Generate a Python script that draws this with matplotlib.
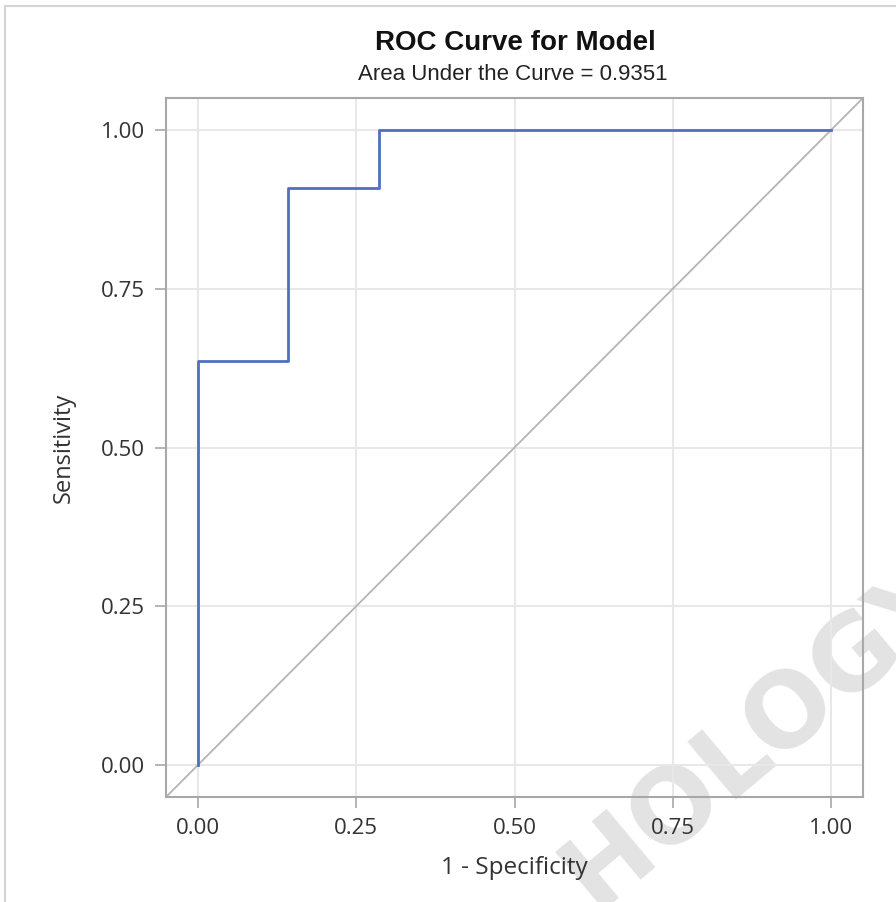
import matplotlib.pyplot as plt
from matplotlib.patches import Rectangle

# ROC points (1 - specificity, sensitivity)
fpr = [0.0, 0.0, 1 / 7, 1 / 7, 2 / 7, 2 / 7, 1.0]
tpr = [0.0, 7 / 11, 7 / 11, 10 / 11, 10 / 11, 1.0, 1.0]
auc_value = 0.9351
ticks = [0.0, 0.25, 0.50, 0.75, 1.00]
tick_labels = ["0.00", "0.25", "0.50", "0.75", "1.00"]

fig = plt.figure(figsize=(8.96, 9.02), dpi=100)
ax = fig.add_axes([166 / 896, 1 - 797 / 902, (863 - 166) / 896, (797 - 98) / 902])
ax.set_facecolor("none")

# faint watermark behind the plot
fig.text(760 / 896, 1 - 735 / 902, "HOLOGY", rotation=40, fontsize=74, fontweight="bold",
         color="#e3e3e3", ha="center", va="center", zorder=-5, family="DejaVu Sans")

# outer frame
fig.patches.append(Rectangle((5 / 896, -0.01), 1.0, 1 - 6 / 902 + 0.01, transform=fig.transFigure,
                             fill=False, edgecolor="#d4d4d4", linewidth=1.5, zorder=-10))

ax.plot([-0.05, 1.05], [-0.05, 1.05], color="#b4b4b4", linewidth=1.3, zorder=2)
ax.plot(fpr, tpr, color="#4f6fbf", linewidth=2.0, zorder=3)

ax.set_xlim(-0.05, 1.05)
ax.set_ylim(-0.05, 1.05)
ax.set_xticks(ticks)
ax.set_yticks(ticks)
ax.set_xticklabels(tick_labels)
ax.set_yticklabels(tick_labels)
ax.grid(True, color="#e8e8e8", linewidth=1.5, zorder=0)
ax.set_axisbelow(True)

for sp in ax.spines.values():
    sp.set_color("#a8a8a8")
    sp.set_linewidth(1.5)

ax.tick_params(direction="out", length=8, width=1.2, color="#a8a8a8",
               labelsize=16, labelcolor="#333333", pad=7)
for lbl in ax.get_xticklabels() + ax.get_yticklabels():
    lbl.set_family("Open Sans")

ax.set_xlabel("1 - Specificity", fontsize=17.5, family="Open Sans", color="#333333", labelpad=12)
ax.set_ylabel("Sensitivity", fontsize=17, family="Open Sans", color="#333333", labelpad=18)

fig.text(515 / 896, 1 - 43 / 902, "ROC Curve for Model", fontsize=20, fontweight="bold",
         family="Liberation Sans", ha="center", va="center", color="#111111")
fig.text(513 / 896, 1 - 75 / 902, f"Area Under the Curve = {auc_value:.4f}", fontsize=16,
         family="Liberation Sans", ha="center", va="center", color="#222222")

fig.savefig("out.png", dpi=100)
